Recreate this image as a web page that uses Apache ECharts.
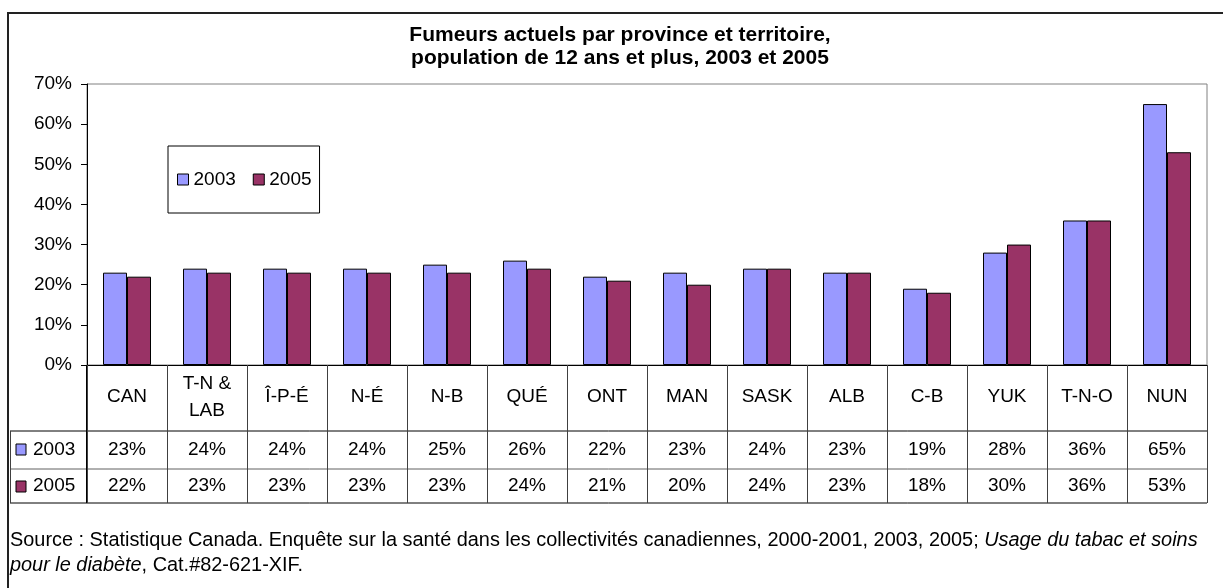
<!DOCTYPE html>
<html>
<head>
<meta charset="utf-8">
<script src="https://cdn.jsdelivr.net/npm/echarts@6/dist/echarts.min.js"></script>
<style>
  html, body { margin: 0; padding: 0; background: #fff; }
  #chart { width: 1223px; height: 588px; }
</style>
</head>
<body>
<div id="chart"></div>
<script>
// données (%)
const categories = ['CAN', 'T-N &\nLAB', 'Î-P-É', 'N-É', 'N-B', 'QUÉ', 'ONT', 'MAN', 'SASK', 'ALB', 'C-B', 'YUK', 'T-N-O', 'NUN']
const seriesNames = ['2003', '2005']
const values2003 = [23, 24, 24, 24, 25, 26, 22, 23, 24, 23, 19, 28, 36, 65]
const values2005 = [22, 23, 23, 23, 23, 24, 21, 20, 24, 23, 18, 30, 36, 53]
const yTicks = [0, 10, 20, 30, 40, 50, 60, 70]

const FONT = '"Liberation Sans", Arial, sans-serif'
const FS = 19
const C2003 = '#9999FF'
const C2005 = '#993366'

// mise en page (px)
const PLOT_L = 87, PLOT_R = 1207, PLOT_T = 84, BASE = 365
const ROW1 = 431, ROW2 = 469, ROW3 = 503
const TABLE_L = 10

const chart = echarts.init(document.getElementById('chart'))

// petite aide pour les libellés du tableau
const rowAxis = (vals, center) => ({
  type: 'category',
  gridIndex: 0,
  position: 'bottom',
  data: categories,
  axisLine: { show: false },
  axisTick: { show: false },
  axisLabel: {
    interval: 0,
    margin: center - BASE,
    verticalAlign: 'middle',
    fontFamily: FONT,
    fontSize: FS,
    color: '#000',
    formatter: (v, i) => vals[i] + '%'
  }
})

const option = {
  animation: false,
  backgroundColor: '#fff',
  title: {
    text: 'Fumeurs actuels par province et territoire,\npopulation de 12 ans et plus, 2003 et 2005',
    left: 620,
    textAlign: 'center',
    top: 24,
    padding: 0,
    textStyle: {
      fontFamily: FONT,
      fontSize: 21,
      fontWeight: 'bold',
      lineHeight: 23,
      color: '#000'
    }
  },
  legend: {
    data: seriesNames,
    left: 168,
    top: 146,
    orient: 'horizontal',
    borderColor: '#000',
    borderWidth: 1,
    padding: [24, 8, 24, 9],
    itemWidth: 11,
    itemHeight: 11,
    itemGap: 17,
    icon: 'rect',
    itemStyle: { borderColor: '#000', borderWidth: 1 },
    textStyle: { fontFamily: FONT, fontSize: FS, color: '#000' }
  },
  grid: {
    left: PLOT_L,
    right: 1223 - PLOT_R,
    top: PLOT_T,
    bottom: 588 - BASE,
    show: true,
    borderColor: '#808080',
    borderWidth: 1,
    backgroundColor: 'transparent'
  },
  xAxis: [
    {
      type: 'category',
      data: categories,
      axisLine: { lineStyle: { color: '#000', width: 1 } },
      axisTick: { show: true, length: ROW3 - BASE, lineStyle: { color: '#404040' } },
      axisLabel: {
        interval: 0,
        margin: 397 - BASE,
        verticalAlign: 'middle',
        fontFamily: FONT,
        fontSize: FS,
        lineHeight: 27,
        color: '#000'
      },
      splitLine: { show: false }
    },
    rowAxis(values2003, 450),
    rowAxis(values2005, 486)
  ],
  yAxis: {
    type: 'value',
    min: yTicks[0],
    max: yTicks[yTicks.length - 1],
    interval: 10,
    axisLine: { show: true, lineStyle: { color: '#000' } },
    axisTick: { show: true, length: 6, lineStyle: { color: '#000' } },
    axisLabel: {
      margin: 15,
      fontFamily: FONT,
      fontSize: FS,
      color: '#000',
      formatter: '{value}%'
    },
    splitLine: { show: false }
  },
  series: [
    {
      name: seriesNames[0],
      type: 'bar',
      data: values2003,
      barGap: 0,
      barCategoryGap: '40%',
      itemStyle: { color: C2003, borderColor: '#000', borderWidth: 1 }
    },
    {
      name: seriesNames[1],
      type: 'bar',
      data: values2005,
      barGap: 0,
      barCategoryGap: '40%',
      itemStyle: { color: C2005, borderColor: '#000', borderWidth: 1 }
    }
  ],
  graphic: [
    // cadre extérieur
    { type: 'rect', shape: { x: 8, y: 13, width: 1240, height: 620 }, style: { fill: 'none', stroke: '#222', lineWidth: 2 }, silent: true },
    // lignes du tableau
    { type: 'line', shape: { x1: TABLE_L, y1: ROW1, x2: PLOT_R, y2: ROW1 }, style: { stroke: '#000', lineWidth: 1 } },
    { type: 'line', shape: { x1: TABLE_L, y1: ROW2, x2: PLOT_R, y2: ROW2 }, style: { stroke: '#606060', lineWidth: 1 } },
    { type: 'line', shape: { x1: TABLE_L, y1: ROW3, x2: PLOT_R, y2: ROW3 }, style: { stroke: '#000', lineWidth: 1 } },
    { type: 'line', shape: { x1: TABLE_L + 0.5, y1: ROW1, x2: TABLE_L + 0.5, y2: ROW3 }, style: { stroke: '#404040', lineWidth: 1 } },
    { type: 'line', shape: { x1: PLOT_L - 0.5, y1: BASE, x2: PLOT_L - 0.5, y2: ROW3 }, style: { stroke: '#000', lineWidth: 1 } },
    // en-têtes de lignes (légende du tableau)
    { type: 'rect', shape: { x: 16, y: 444, width: 10, height: 11 }, style: { fill: C2003, stroke: '#000', lineWidth: 1 } },
    { type: 'text', x: 33, y: 450, style: { text: seriesNames[0], font: FS + 'px ' + FONT, fill: '#000', verticalAlign: 'middle' } },
    { type: 'rect', shape: { x: 16, y: 481, width: 10, height: 11 }, style: { fill: C2005, stroke: '#000', lineWidth: 1 } },
    { type: 'text', x: 33, y: 486, style: { text: seriesNames[1], font: FS + 'px ' + FONT, fill: '#000', verticalAlign: 'middle' } },
    // source
    {
      type: 'text',
      x: 10,
      y: 528,
      style: {
        text: 'Source : Statistique Canada. Enquête sur la santé dans les collectivités canadiennes, 2000-2001, 2003, 2005; {i|Usage du tabac et soins}\n{i|pour le diabète}, Cat.#82-621-XIF.',
        font: '19.9px ' + FONT,
        fill: '#000',
        lineHeight: 25,
        rich: {
          i: { fontStyle: 'italic', fontFamily: FONT, fontSize: 19.9, lineHeight: 25, fill: '#000' }
        }
      }
    }
  ]
}

chart.setOption(option)
window.addEventListener('resize', () => chart.resize())
</script>
</body>
</html>
